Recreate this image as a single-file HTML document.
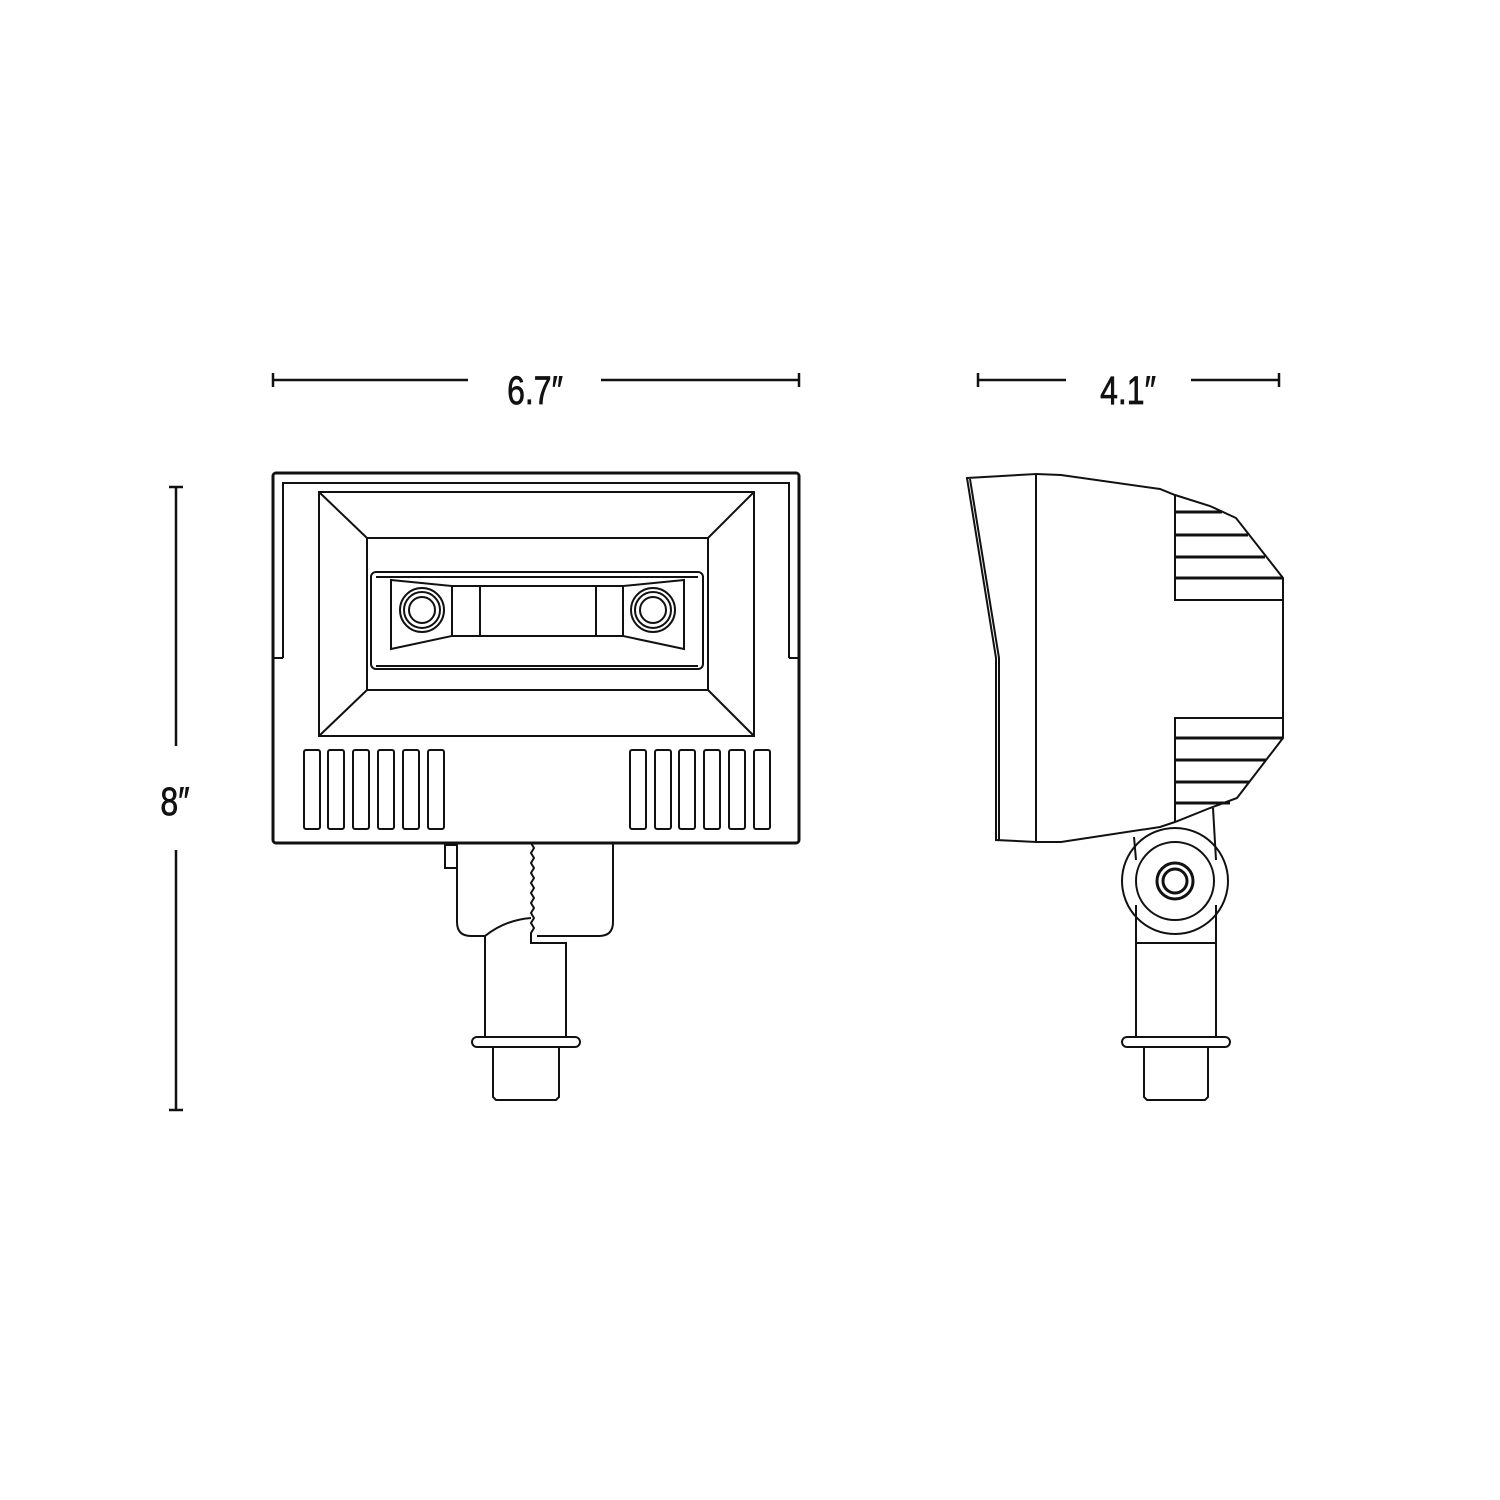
<!DOCTYPE html>
<html><head><meta charset="utf-8"><style>
html,body{margin:0;padding:0;background:#fff}
svg{display:block}
text{font-family:"Liberation Sans",sans-serif;font-size:40px;fill:#111;stroke:#111;stroke-width:0.7}
</style></head><body>
<svg width="1500" height="1500" viewBox="0 0 1500 1500" xmlns="http://www.w3.org/2000/svg">
<g stroke="#111" fill="none" stroke-width="2.5">
<line x1="273" y1="380" x2="468" y2="380"/><line x1="601" y1="380" x2="799" y2="380"/>
<line x1="273" y1="373" x2="273" y2="387"/><line x1="799" y1="373" x2="799" y2="387"/>
<line x1="978" y1="380" x2="1066" y2="380"/><line x1="1191" y1="380" x2="1279" y2="380"/>
<line x1="978" y1="373" x2="978" y2="387"/><line x1="1279" y1="373" x2="1279" y2="387"/>
<line x1="176" y1="487" x2="176" y2="746"/><line x1="176" y1="850" x2="176" y2="1110"/>
<line x1="169" y1="487" x2="183" y2="487"/><line x1="169" y1="1110" x2="183" y2="1110"/>
</g>
<text x="535" y="404" text-anchor="middle" transform="translate(535 0) scale(0.8 1) translate(-535 0)">6.7″</text>
<text x="1128" y="404" text-anchor="middle" transform="translate(1128 0) scale(0.8 1) translate(-1128 0)">4.1″</text>
<text x="175" y="815" text-anchor="middle" transform="translate(175 0) scale(0.8 1) translate(-175 0)">8″</text>

<g stroke="#111" fill="none" stroke-width="2">
<rect x="273" y="473" width="526" height="370" rx="3" stroke-width="3"/>
<polyline points="283,658 283,483 789,483 789,658"/>
<line x1="273" y1="658" x2="283" y2="658"/><line x1="789" y1="658" x2="799" y2="658"/>
<rect x="319" y="492" width="435" height="244"/>
<rect x="367" y="538" width="341" height="152"/>
<line x1="319" y1="492" x2="367" y2="538"/><line x1="754" y1="492" x2="708" y2="538"/>
<line x1="319" y1="736" x2="367" y2="690"/><line x1="754" y1="736" x2="708" y2="690"/>
<rect x="371" y="572" width="332" height="97" rx="5"/>
<line x1="376" y1="577" x2="698" y2="577"/><line x1="376" y1="666" x2="698" y2="666"/>
<polygon points="391,580 452,586 452,636 391,649"/>
<polygon points="684,580 623,586 623,636 684,649"/>
<rect x="452" y="586" width="171" height="50"/>
<line x1="480" y1="586" x2="480" y2="636"/><line x1="596" y1="586" x2="596" y2="636"/>
<circle cx="422" cy="610" r="22"/><circle cx="422" cy="610" r="18"/><circle cx="422" cy="610" r="13"/>
<circle cx="653" cy="610" r="22"/><circle cx="653" cy="610" r="18"/><circle cx="653" cy="610" r="13"/>
<g>
<rect x="304" y="750" width="16" height="79" rx="2"/><rect x="328" y="750" width="16" height="79" rx="2"/>
<rect x="353" y="750" width="16" height="79" rx="2"/><rect x="378" y="750" width="16" height="79" rx="2"/>
<rect x="403" y="750" width="16" height="79" rx="2"/><rect x="428" y="750" width="16" height="79" rx="2"/>
<rect x="630" y="750" width="16" height="79" rx="2"/><rect x="655" y="750" width="16" height="79" rx="2"/>
<rect x="679" y="750" width="16" height="79" rx="2"/><rect x="704" y="750" width="16" height="79" rx="2"/>
<rect x="729" y="750" width="16" height="79" rx="2"/><rect x="754" y="750" width="16" height="79" rx="2"/>
</g>
<path d="M457,843 V922 Q457,936 471,936 H485 Q505,920 531,918"/>
<path d="M531,843 l3,5 l-3,5 l3,5 l-3,5 l3,5 l-3,5 l3,5 l-3,5 l3,5 l-3,5 l3,5 l-3,5 l3,5 l-3,5 l3,5 l-3,5 l3,5 l-3,5 V943 H566 V1037"/>
<path d="M537,936 H599 Q613,936 613,922 V843"/>
<line x1="485" y1="936" x2="485" y2="1037"/>
<polyline points="457,845 445,845 445,868 457,868"/>
<rect x="472" y="1037" width="108" height="10" rx="5"/>
<path d="M493,1047 V1097 L496,1100 H556 L559,1097 V1047"/>
<polygon points="967,478 1036,474 1036,842 996,840 996,658" />
<polyline points="970,479 999,658 999,840"/>
<polyline points="1036,474 1061,475 1160,489 1175,495 1210,506 1236,518 1283,578 1283,738 1237,798 1210,808 1175,822 1160,827 1061,842 1036,842"/>
<polyline points="1175,495 1175,600 1283,600"/>
<polyline points="1283,718 1175,718 1175,822"/>
<g stroke-width="3">
<line x1="1175" y1="512" x2="1222" y2="512"/><line x1="1175" y1="535" x2="1248" y2="535"/>
<line x1="1175" y1="557" x2="1265" y2="557"/><line x1="1175" y1="578" x2="1283" y2="578"/>
<line x1="1175" y1="738" x2="1283" y2="738"/><line x1="1175" y1="760" x2="1266" y2="760"/>
<line x1="1175" y1="782" x2="1249" y2="782"/><line x1="1175" y1="803" x2="1230" y2="803"/>
</g>
<line x1="1213" y1="808" x2="1216" y2="860"/><line x1="1134" y1="837" x2="1136" y2="860"/>
<circle cx="1175" cy="881" r="53"/><circle cx="1175" cy="881" r="39"/>
<circle cx="1175" cy="881" r="18" stroke-width="3"/><circle cx="1175" cy="881" r="12" stroke-width="3"/>
<polyline points="1136,905 1136,943 1216,943 1216,905"/>
<line x1="1136" y1="943" x2="1136" y2="1037"/><line x1="1216" y1="943" x2="1216" y2="1037"/>
<rect x="1122" y="1037" width="108" height="10" rx="5"/>
<path d="M1144,1047 V1097 L1147,1100 H1205 L1208,1097 V1047"/>
</g>
</svg>
</body></html>
